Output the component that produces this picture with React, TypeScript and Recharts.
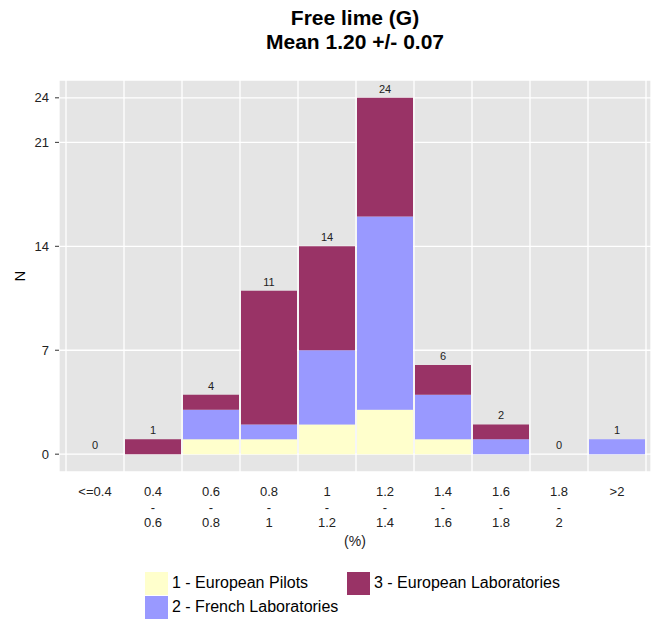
import { ComposedChart, Bar, Line, XAxis, YAxis, CartesianGrid, LabelList } from "recharts";

const bins = ["<=0.4", "0.4-0.6", "0.6-0.8", "0.8-1", "1-1.2", "1.2-1.4", "1.4-1.6", "1.6-1.8", "1.8-2", ">2"];
const binLabels = [
  ["<=0.4"],
  ["0.4", "-", "0.6"],
  ["0.6", "-", "0.8"],
  ["0.8", "-", "1"],
  ["1", "-", "1.2"],
  ["1.2", "-", "1.4"],
  ["1.4", "-", "1.6"],
  ["1.6", "-", "1.8"],
  ["1.8", "-", "2"],
  [">2"],
];
const europeanPilots = [0, 0, 1, 1, 2, 3, 1, 0, 0, 0];
const frenchLabs = [0, 0, 2, 1, 5, 13, 3, 1, 0, 1];
const europeanLabs = [0, 1, 1, 9, 7, 8, 2, 1, 0, 0];
const yTicks = [0, 7, 14, 21, 24];
const edgeTicks = [0, 1, 2, 3, 4, 5, 6, 7, 8, 9, 10];

const legendItems = [
  { name: "1 - European Pilots", color: "#FFFFCC" },
  { name: "2 - French Laboratories", color: "#9999FF" },
  { name: "3 - European Laboratories", color: "#993366" },
];

const data = bins.map((bin, i) => ({
  bin,
  idx: i,
  pilots: europeanPilots[i],
  french: frenchLabs[i],
  labs: europeanLabs[i],
  total: europeanPilots[i] + frenchLabs[i] + europeanLabs[i],
}));

const FONT = '"Liberation Sans", Arial, sans-serif';

const BinTick = ({ x, y, payload }: any) => {
  const lines = binLabels[bins.indexOf(payload.value)] || [payload.value];
  return (
    <text x={x} y={y} textAnchor="middle" fill="#222" fontSize={13} fontFamily={FONT}>
      {lines.map((l, i) => (
        <tspan key={i} x={x} dy={i === 0 ? 24 : 15.5}>
          {l}
        </tspan>
      ))}
    </text>
  );
};

const App = () => {
  return (
    <div style={{ position: "absolute", left: 0, top: 0, width: 657, height: 621, background: "#fff", fontFamily: FONT }}>
      <div
        style={{
          position: "absolute",
          left: 59,
          top: 6,
          width: 592,
          textAlign: "center",
          fontWeight: "bold",
          fontSize: 21,
          lineHeight: "24px",
          color: "#000",
        }}
      >
        <div>Free lime (G)</div>
        <div>Mean 1.20 +/- 0.07</div>
      </div>

      <ComposedChart
        width={657}
        height={621}
        data={data}
        margin={{ top: 80, right: 6, left: 0, bottom: 71 }}
        barCategoryGap={1}
      >
        <CartesianGrid
          xAxisId="edge"
          fill="#E5E5E5"
          stroke="#FFFFFF"
          strokeWidth={1.3}
          strokeDasharray=""
        />
        <XAxis
          xAxisId="edge"
          type="number"
          dataKey="idx"
          domain={[-7 / 58, 585 / 58]}
          ticks={edgeTicks}
          allowDataOverflow
          hide
        />
        <XAxis
          xAxisId="cat"
          dataKey="bin"
          padding={{ left: 7, right: 5 }}
          axisLine={false}
          tickLine={false}
          tickSize={0}
          tickMargin={0}
          height={78}
          interval={0}
          tick={<BinTick />}
          label={{ value: "(%)", position: "insideBottom", offset: 4, fill: "#222", fontSize: 14, fontFamily: FONT }}
        />
        <YAxis
          domain={[-1.2, 25.2]}
          ticks={yTicks}
          allowDataOverflow
          width={59}
          axisLine={false}
          tickSize={4}
          tickMargin={6}
          tickLine={{ stroke: "#333" }}
          tick={{ fill: "#222", fontSize: 13, fontFamily: FONT }}
          label={{ value: "N", angle: -90, position: "center", dx: -10, fill: "#000", fontSize: 15, fontFamily: FONT }}
        />
        <Bar xAxisId="cat" dataKey="pilots" stackId="a" fill="#FFFFCC" isAnimationActive={false} />
        <Bar xAxisId="cat" dataKey="french" stackId="a" fill="#9999FF" isAnimationActive={false} />
        <Bar xAxisId="cat" dataKey="labs" stackId="a" fill="#993366" isAnimationActive={false} />
        <Line
          xAxisId="cat"
          dataKey="total"
          stroke="none"
          dot={false}
          activeDot={false}
          isAnimationActive={false}
        >
          <LabelList dataKey="total" position="top" offset={5} fill="#222" fontSize={11} fontFamily={FONT} />
        </Line>
      </ComposedChart>

      <div
        style={{
          position: "absolute",
          left: 145,
          top: 571,
          display: "grid",
          gridTemplateRows: "24px 24px",
          gridTemplateColumns: "202px auto",
          gridAutoFlow: "column",
          fontSize: 16,
          color: "#000",
        }}
      >
        {legendItems.map((item) => (
          <div key={item.name} style={{ display: "flex", alignItems: "center", height: 24 }}>
            <span style={{ display: "inline-block", width: 23, height: 23, background: item.color, marginRight: 4 }} />
            <span>{item.name}</span>
          </div>
        ))}
      </div>
    </div>
  );
};

export default App;
